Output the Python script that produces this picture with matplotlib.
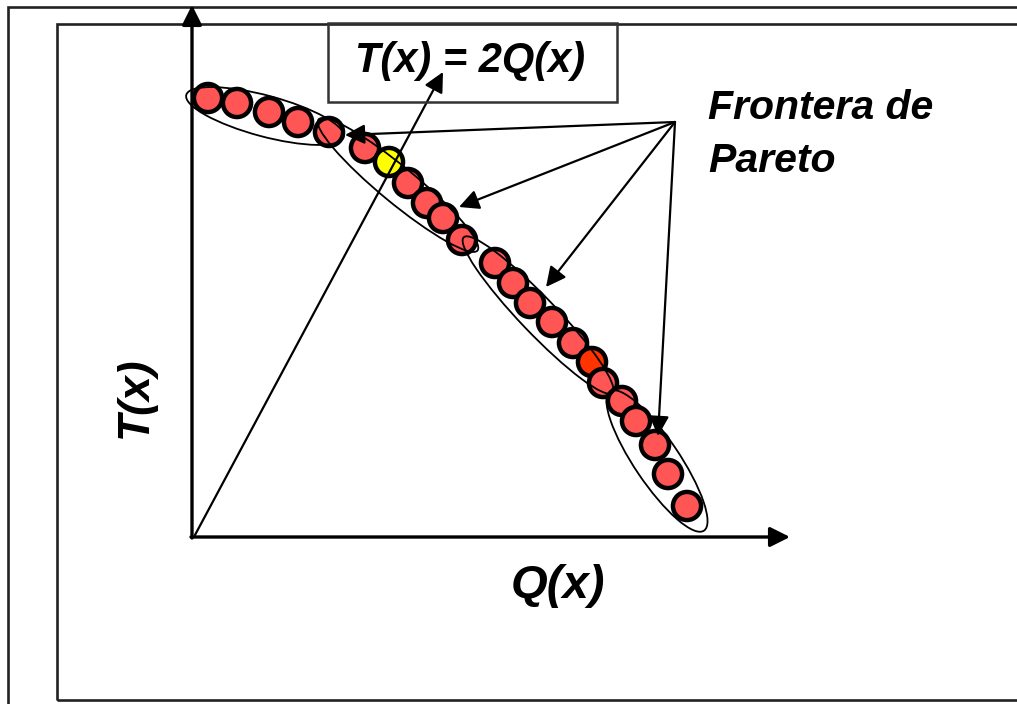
import matplotlib.pyplot as plt
from matplotlib.patches import Ellipse, Rectangle

# puntos de la frontera de Pareto (Q(x), T(x))
Q = [1.6, 4.5, 7.7, 10.6, 13.7, 17.3, 19.7, 21.6, 23.5, 25.1, 27.0, 30.3,
     32.1, 33.8, 36.0, 38.1, 40.0, 41.1, 43.0, 44.4, 46.3, 47.6, 49.5]
T = [43.9, 43.4, 42.5, 41.5, 40.5, 38.9, 37.5, 35.4, 33.4, 31.9, 29.7, 27.4,
     25.4, 23.4, 21.5, 19.4, 17.5, 15.4, 13.6, 11.6, 9.2, 6.3, 3.1]
yellow_idx = 6   # punto sobre T(x) = 2Q(x)
orange_idx = 16

# grupos (elipses): centro, largo, ancho, angulo
ell_q = [7.3, 20.6, 34.6, 46.5]
ell_t = [42.1, 35.2, 22.2, 7.6]
ell_len = [16.3, 20.6, 21.5, 16.8]
ell_wid = [4.1, 3.6, 3.6, 4.5]
ell_ang = [-15, -39.5, -46.3, -56]

# flechas desde el texto "Frontera de Pareto"
src = (48.3, 41.5)
tgt_q = [15.3, 26.7, 35.4, 46.6]
tgt_t = [40.2, 33.0, 25.0, 10.1]

# recta T(x) = 2Q(x)
line_tip = (25.1, 46.5)

fig = plt.figure(figsize=(10.17, 7.04), dpi=100)
ax = fig.add_axes([0, 0, 1, 1])
ax.set_xlim(-19.2, 82.5)
ax.set_ylim(-16.7, 53.7)
ax.axis('off')

font = dict(family='Liberation Sans', weight='bold', style='italic')

# marcos
ax.add_patch(Rectangle((-18.4, -30), 120, 83.0, fill=False, lw=1.9, ec='#222222'))
ax.add_patch(Rectangle((-13.5, -16.3), 120, 67.6, fill=False, lw=1.9, ec='#222222'))

# puntos
colors = ['#ff5555'] * len(Q)
colors[yellow_idx] = '#ffff00'
colors[orange_idx] = '#ff3300'
ax.scatter(Q, T, s=410, c=colors, edgecolors='black', linewidths=3.2, zorder=3)

# elipses
for i in range(len(ell_q)):
    ax.add_patch(Ellipse((ell_q[i], ell_t[i]), ell_len[i], ell_wid[i], angle=ell_ang[i],
                         fill=False, lw=1.3, ec='black', zorder=4))

# ejes
axis_arrow = dict(arrowstyle='-|>,head_length=0.6,head_width=0.3', lw=2.4, color='black',
                  shrinkA=0, shrinkB=0, mutation_scale=20)
ax.annotate('', xy=(59.8, 0), xytext=(-0.1, 0), arrowprops=axis_arrow, zorder=5)
ax.annotate('', xy=(0, 53.2), xytext=(0, -0.1), arrowprops=axis_arrow, zorder=5)

thin_arrow = dict(arrowstyle='-|>,head_length=0.6,head_width=0.3', lw=1.6, color='black',
                  shrinkA=0, shrinkB=0, mutation_scale=20)
ax.annotate('', xy=line_tip, xytext=(0.3, 0.2), arrowprops=thin_arrow, zorder=5)
for i in range(len(tgt_q)):
    ax.annotate('', xy=(tgt_q[i], tgt_t[i]), xytext=src, arrowprops=thin_arrow, zorder=5)

# caja de la ecuacion
ax.add_patch(Rectangle((13.6, 43.5), 28.9, 7.9, fill=False, lw=1.8, ec='#333333', zorder=5))
ax.text(27.8, 47.6, 'T(x) = 2Q(x)', fontsize=30, ha='center', va='center', zorder=6, **font)

ax.text(51.6, 41.8, 'Frontera de', fontsize=29.5, ha='left', va='baseline', **font)
ax.text(51.6, 36.5, 'Pareto', fontsize=29.5, ha='left', va='baseline', **font)

ax.text(36.6, -6.1, 'Q(x)', fontsize=34, ha='center', va='baseline', **font)
ax.text(-5.7, 14.0, 'T(x)', fontsize=32, ha='center', va='center', rotation=90, **font)

plt.savefig('out.png', dpi=100)
